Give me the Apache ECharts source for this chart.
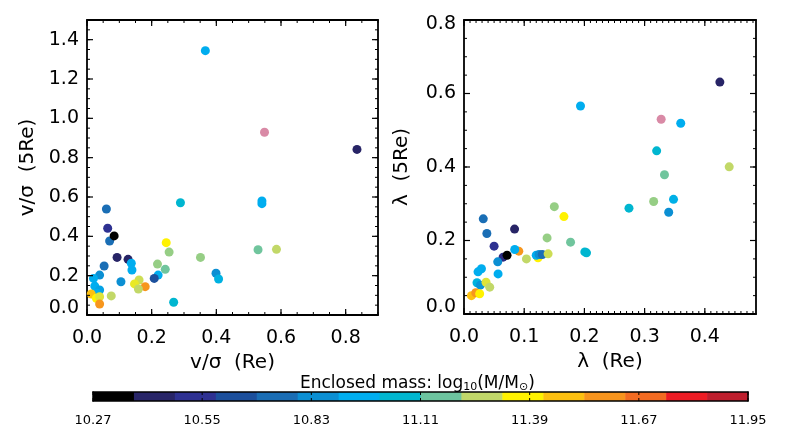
<!DOCTYPE html>
<html>
<head>
<meta charset="utf-8">
<script src="https://cdn.jsdelivr.net/npm/echarts@6/dist/echarts.min.js"></script>
<style>
html, body { margin: 0; padding: 0; background: #fff; }
#main { width: 786px; height: 432px; }
</style>
</head>
<body>
<div id="main"></div>
<script>
// colour bar: enclosed mass, 16 steps
var massMin = 10.27, massMax = 11.95;
var cbColors = ['#000000', '#282568', '#2e3192', '#1c4f9c', '#1a6db4', '#0b8fd3', '#00aeef', '#00b6cf',
                '#6dc49f', '#c1d86a', '#fff200', '#fdc010', '#f7941d', '#f26b22', '#ed1c24', '#be1e2d'];
var cbTicks = [10.27, 10.55, 10.83, 11.11, 11.39, 11.67, 11.95];

// left panel: v/sigma inside Re and inside 5Re, log enclosed mass
var vsRe   = [0.366, 0.835, 0.289, 0.541, 0.541, 0.060, 0.064, 0.070, 0.084, 0.245, 0.254, 0.529, 0.586, 0.351,
              0.093, 0.127, 0.137, 0.218, 0.053, 0.139, 0.242, 0.399, 0.220, 0.039, 0.020, 0.407, 0.208, 0.105,
              0.161, 0.147, 0.180, 0.159, 0.024, 0.039, 0.031, 0.013, 0.075, 0.029, 0.039, 0.039, 0.268];
var vs5Re  = [1.344, 0.842, 0.571, 0.580, 0.566, 0.539, 0.441, 0.376, 0.402, 0.368, 0.320, 0.332, 0.334, 0.293,
              0.293, 0.283, 0.263, 0.259, 0.249, 0.229, 0.232, 0.212, 0.203, 0.203, 0.186, 0.183, 0.186, 0.169,
              0.178, 0.158, 0.144, 0.132, 0.147, 0.127, 0.110, 0.107, 0.097, 0.085, 0.093, 0.056, 0.065];
var vsMass = [10.94, 10.38, 11.05, 10.94, 10.94, 10.72, 10.49, 10.72, 10.27, 11.39, 11.22, 11.17, 11.28, 11.22,
              10.38, 10.38, 10.94, 11.22, 10.72, 10.94, 11.17, 10.83, 10.94, 10.83, 10.94, 10.99, 10.61, 10.83,
              11.30, 11.35, 11.61, 11.28, 10.94, 10.90, 10.94, 11.50, 11.28, 11.39, 11.33, 11.61, 11.05];
var vsPink = [[0.549, 0.929]];

// right panel: lambda inside Re and inside 5Re, log enclosed mass
var lamRe   = [0.425, 0.1935, 0.360, 0.320, 0.4405, 0.333, 0.348, 0.315, 0.274, 0.340, 0.150, 0.166, 0.032, 0.038,
               0.084, 0.138, 0.177, 0.050, 0.091, 0.0843, 0.2007, 0.2035, 0.1037, 0.123, 0.120, 0.1247, 0.130, 0.1397,
               0.0649, 0.0715, 0.056, 0.0566, 0.029, 0.0233, 0.0216, 0.0272, 0.0366, 0.0427, 0.0123, 0.0195, 0.026];
var lam5Re  = [0.631, 0.566, 0.519, 0.444, 0.4005, 0.379, 0.312, 0.306, 0.288, 0.277, 0.292, 0.265, 0.259, 0.219,
               0.231, 0.207, 0.1955, 0.1846, 0.171, 0.1755, 0.169, 0.1665, 0.150, 0.153, 0.160, 0.162, 0.162, 0.1637,
               0.1546, 0.160, 0.142, 0.109, 0.123, 0.1148, 0.0849, 0.0784, 0.0865, 0.073, 0.050, 0.0577, 0.055];
var lamMass = [10.38, 10.94, 10.94, 11.05, 11.28, 11.17, 10.97, 11.22, 11.05, 10.83, 11.22, 11.39, 10.72, 10.72,
               10.38, 11.22, 11.17, 10.49, 11.61, 10.94, 11.05, 11.05, 11.28, 11.39, 10.94, 10.83, 10.72, 11.30,
               10.45, 10.27, 10.83, 10.94, 10.94, 10.94, 11.00, 10.85, 11.33, 11.28, 11.50, 11.61, 11.39];
var lamPink = [[0.3275, 0.530]];

var pinkColor = '#d98aa6';
var font = 'DejaVu Sans';

// axis ranges [min, max, major step, minor step]
var vsX = [0, 0.9, 0.2, 0.05], vsY = [0, 1.5, 0.2, 0.05];
var lamX = [0, 0.485, 0.1, 0.01], lamY = [0, 0.8, 0.2, 0.05];

function tickLabel(showMax, rich, margin) {
    return {
        show: true, color: '#000', fontSize: 19, fontFamily: font, margin: margin, showMaxLabel: showMax,
        formatter: function (v) {
            var s = v.toFixed(1);
            if (rich && rich[s]) return '{' + rich[s] + '|' + s + '}';
            return s;
        },
        rich: {
            up: { fontSize: 19, fontFamily: font, color: '#000', padding: [0, 0, 14, 0] },
            dn: { fontSize: 19, fontFamily: font, color: '#000', padding: [8, 0, 0, 0] }
        }
    };
}

function axisName(text, gap) {
    return {
        name: text, nameLocation: 'middle', nameGap: gap,
        nameTextStyle: { color: '#000', fontSize: 20, fontFamily: font }
    };
}

// one boxed side: main side carries labels and name, the opposite side only the frame line
function sideAxis(gridIndex, pos, r, extra, lineWidth) {
    return Object.assign({
        type: 'value', gridIndex: gridIndex, position: pos, min: r[0], max: r[1], interval: r[2],
        axisLine: { show: true, onZero: false, lineStyle: { color: '#000', width: lineWidth || 1.8 } },
        axisTick: { show: false },
        axisLabel: { show: false },
        splitLine: { show: false }
    }, extra || {});
}

// inward tick marks: [value, side(0 bottom,1 top,2 left,3 right), length]
function ticksAlong(min, max, step, sides, len) {
    var out = [];
    var k0 = Math.ceil(min / step - 1e-6), k1 = Math.floor(max / step + 1e-6);
    for (var k = k0; k <= k1; k++) {
        var v = Math.round(k * step * 10000) / 10000;
        sides.forEach(function (s) { out.push([v, s, len]); });
    }
    return out;
}

function frameTicks(xr, yr) {
    return [].concat(
        ticksAlong(xr[0], xr[1], xr[3], [0, 1], 3), ticksAlong(xr[0], xr[1], xr[2], [0, 1], 6),
        ticksAlong(yr[0], yr[1], yr[3], [2, 3], 3), ticksAlong(yr[0], yr[1], yr[2], [2, 3], 6));
}

function tickSeries(xi, yi, xr, yr, data) {
    return {
        type: 'custom', xAxisIndex: xi, yAxisIndex: yi, silent: true, z: 4, clip: false,
        data: data,
        renderItem: function (params, api) {
            var v = api.value(0), side = api.value(1), len = api.value(2);
            var p, q;
            if (side === 0) { p = api.coord([v, yr[0]]); q = [p[0], p[1] - len]; }
            else if (side === 1) { p = api.coord([v, yr[1]]); q = [p[0], p[1] + len]; }
            else if (side === 2) { p = api.coord([xr[0], v]); q = [p[0] + len, p[1]]; }
            else { p = api.coord([xr[1], v]); q = [p[0] - len, p[1]]; }
            return {
                type: 'line',
                shape: { x1: p[0], y1: p[1], x2: q[0], y2: q[1] },
                style: { stroke: '#000', lineWidth: len > 4 ? 1.2 : 1 }
            };
        }
    };
}

var xAxes = [
    sideAxis(0, 'bottom', vsX, Object.assign({ axisLabel: tickLabel(false, null, 14) }, axisName('v/σ  (Re)', 29))),
    sideAxis(0, 'top', vsX),
    sideAxis(1, 'bottom', lamX, Object.assign({ axisLabel: tickLabel(false, null, 14) }, axisName('λ  (Re)', 29))),
    sideAxis(1, 'top', lamX),
    {
        type: 'value', gridIndex: 2, position: 'bottom', min: massMin, max: massMax, z: 3,
        axisLine: { show: true, onZero: false, lineStyle: { color: '#000', width: 1.5 } },
        axisTick: { show: false },
        axisLabel: { show: true, customValues: cbTicks, color: '#000', fontSize: 13, fontFamily: font, margin: 13,
            formatter: function (v) { return v.toFixed(2); } },
        splitLine: { show: false }
    },
    {
        type: 'value', gridIndex: 2, position: 'top', min: massMin, max: massMax, z: 3,
        axisLine: { show: true, onZero: false, lineStyle: { color: '#000', width: 1.5 } },
        axisTick: { show: false }, axisLabel: { show: false }, splitLine: { show: false }
    }
];
var yAxes = [
    sideAxis(0, 'left', vsY, Object.assign({ axisLabel: tickLabel(false, { '0.0': 'up' }, 8) }, axisName('v/σ  (5Re)', 49))),
    sideAxis(0, 'right', vsY),
    sideAxis(1, 'left', lamY, Object.assign({ axisLabel: tickLabel(true, { '0.0': 'up', '0.8': 'dn' }, 8) }, axisName('λ  (5Re)', 52))),
    sideAxis(1, 'right', lamY),
    sideAxis(2, 'left', [0, 1, 1], { z: 3 }, 1.5),
    sideAxis(2, 'right', [0, 1, 1], { z: 3 }, 1.5)
];

var cbStep = (massMax - massMin) / cbColors.length;
var cbData = cbColors.map(function (c, i) {
    return [massMin + i * cbStep, massMin + (i + 1) * cbStep, i];
});
var cbTickData = [];
cbTicks.forEach(function (v) { cbTickData.push([v, 0, 3], [v, 1, 3]); });

function pts(xs, ys, ms) {
    return xs.map(function (x, i) { return [x, ys[i], ms[i]]; });
}

var myChart = echarts.init(document.getElementById('main'), null, { renderer: 'canvas' });

option = {
    animation: false,
    backgroundColor: '#fff',
    title: {
        text: 'Enclosed mass: log{s|10}(M/M{s|⊙})',
        left: 295, top: 369,
        textStyle: {
            color: '#000', fontSize: 17, fontWeight: 'normal', fontFamily: font,
            rich: { s: { fontSize: 11, fontFamily: font, color: '#000', padding: [8, 0, 0, 0] } }
        }
    },
    grid: [
        { left: 87, top: 20, width: 291, height: 295 },
        { left: 464, top: 20, width: 292, height: 294 },
        { left: 93, top: 392, width: 655, height: 9 }
    ],
    xAxis: xAxes,
    yAxis: yAxes,
    visualMap: {
        type: 'continuous', show: false, min: massMin, max: massMax, dimension: 2,
        seriesIndex: [0, 1], inRange: { color: cbColors }
    },
    series: [
        {
            type: 'scatter', xAxisIndex: 0, yAxisIndex: 0, symbolSize: 9,
            itemStyle: { opacity: 1 },
            data: pts(vsRe, vs5Re, vsMass)
        },
        {
            type: 'scatter', xAxisIndex: 2, yAxisIndex: 2, symbolSize: 9,
            itemStyle: { opacity: 1 },
            data: pts(lamRe, lam5Re, lamMass)
        },
        {
            type: 'scatter', xAxisIndex: 0, yAxisIndex: 0, symbolSize: 9,
            itemStyle: { color: pinkColor, opacity: 1 }, data: vsPink
        },
        {
            type: 'scatter', xAxisIndex: 2, yAxisIndex: 2, symbolSize: 9,
            itemStyle: { color: pinkColor, opacity: 1 }, data: lamPink
        },
        {
            type: 'custom', xAxisIndex: 4, yAxisIndex: 4, silent: true, z: 2,
            data: cbData,
            renderItem: function (params, api) {
                var p0 = api.coord([api.value(0), 0]);
                var p1 = api.coord([api.value(1), 1]);
                return {
                    type: 'rect',
                    shape: { x: p0[0], y: p1[1], width: p1[0] - p0[0] + 0.5, height: p0[1] - p1[1] },
                    style: { fill: cbColors[api.value(2)] }
                };
            }
        },
        tickSeries(0, 0, vsX, vsY, frameTicks(vsX, vsY)),
        tickSeries(2, 2, lamX, lamY, frameTicks(lamX, lamY)),
        tickSeries(4, 4, [massMin, massMax], [0, 1], cbTickData)
    ]
};

myChart.setOption(option);
</script>
</body>
</html>
